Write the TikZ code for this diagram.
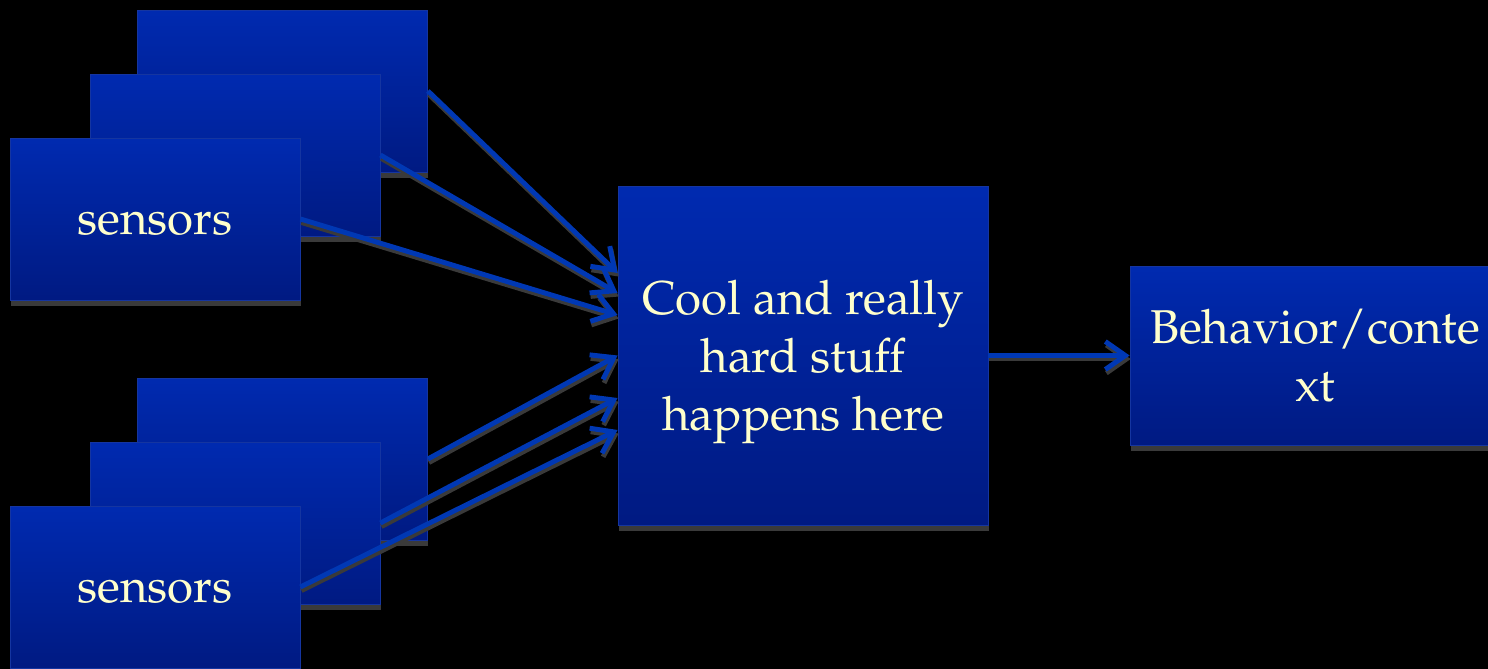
\documentclass[tikz,border=0pt]{standalone}
\usepackage[T1]{fontenc}
\usepackage{mathpazo}
\usepackage{xcolor}
\definecolor{boxtop}{HTML}{002AB0}
\definecolor{boxbottom}{HTML}{001A82}
\definecolor{boxedge}{HTML}{1535A0}
\definecolor{linkblue}{HTML}{0038B4}
\definecolor{shadowgray}{HTML}{3A3A3A}
\definecolor{textcream}{HTML}{FFFFCC}
\usepackage{tikz}
\usetikzlibrary{arrows.meta, shadows}

\tikzset{
    bluebox/.style={draw=boxedge, line width=0.5pt, top color=boxtop, bottom color=boxbottom,
        text=textcream, align=center, inner sep=0pt, font=\fontsize{27}{33}\selectfont,
        drop shadow={shadow xshift=0.5pt, shadow yshift=-3.4pt, fill=shadowgray, opacity=1}},
    sensorbox/.style={bluebox, minimum width=5.8cm, minimum height=3.24cm, text height=18pt, text depth=0pt},
    link/.style={line width=2.8pt, draw=linkblue, -{Straight Barb[length=0.4cm, width=0.56cm]}},
    linkshadow/.style={link, draw=shadowgray, transform canvas={xshift=0.6pt, yshift=-2pt}}
}

\begin{document}
\begin{tikzpicture}[x=0.02cm, y=-0.02cm]
    \useasboundingbox (0,0) rectangle (1488,669);
    \fill[black] (0,0) rectangle (1488,669);
    \clip (0,0) rectangle (1488,669);
    % Sensor stacks
    \foreach \g/\dy in {up/0, low/368} {
        \node[sensorbox] (\g-back) at (282.5, 91+\dy) {};
        \node[sensorbox] (\g-mid) at (235, 155+\dy) {};
        \node[sensorbox] (\g-front) at (155, 219+\dy) {sensors};
    }
    % Processing and result
    \node[bluebox, minimum width=7.4cm, minimum height=6.78cm, text depth=0pt] (core) at (803, 355.5) {Cool and really\\hard stuff\\happens here};
    \node[bluebox, minimum width=7.4cm, minimum height=3.58cm] (ctx) at (1315, 355.5) {Behavior/conte\\xt};
    % Links, shadow first
    \foreach \st in {linkshadow, link} {
        \foreach \src/\dy in {up-back/1.65, up-mid/1.25, up-front/0.81, low-back/0, low-mid/-0.85, low-front/-1.49} {
            \draw[\st] (\src.east) -- ([yshift=\dy cm]core.west);
        }
        \draw[\st] (core) -- (ctx);
    }
\end{tikzpicture}
\end{document}
